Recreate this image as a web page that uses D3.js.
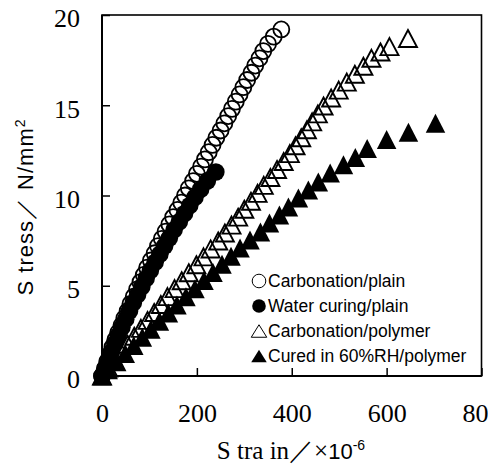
<!DOCTYPE html>
<html>
<head>
<meta charset="utf-8">
<script src="https://cdn.jsdelivr.net/npm/d3@7/dist/d3.min.js"></script>
<style>
  body { margin: 0; background: #fff; }
</style>
</head>
<body>
<svg id="chart" width="488" height="468"></svg>
<script>
// values: strain in x10^-6, stress in N/mm2
var carbPlainStress = [0,0.4,0.8,1.2,1.6,2.0,2.4,2.8,3.2,3.6,4.0,4.4,4.8,5.2,5.6,6.0,6.4,6.8,7.2,7.6,8.0,8.4,8.8,9.2,9.6,10.0,10.4,10.8,11.2,11.6,12.0,12.4,12.8,13.2,13.6,14.0,14.4,14.8,15.2,15.6,16.0,16.4,16.8,17.2,17.6,18.0,18.4,18.8,19.2];
var carbPlainStrain = [0,6,11,17,22,28,34,41,47,54,60,67,74,81,88,95,103,111,118,126,134,142,150,159,167,175,183,192,200,209,217,225,233,241,250,258,266,274,282,290,298,306,315,323,332,340,350,362,378];

var waterPlainStress = [0,0.45,0.9,1.35,1.8,2.25,2.7,3.15,3.6,4.05,4.5,4.95,5.4,5.85,6.3,6.75,7.2,7.65,8.1,8.55,9.0,9.45,9.9,10.35,10.8,11.3];
var waterPlainStrain = [0,7,14,20,27,34,42,50,58,66,75,84,93,102,112,122,132,142,152,163,174,185,196,208,222,240];

var carbPolyStress = [0,0.44,0.88,1.32,1.76,2.2,2.64,3.08,3.52,3.96,4.4,4.84,5.28,5.72,6.16,6.6,7.04,7.48,7.92,8.36,8.8,9.24,9.68,10.12,10.56,11.0,11.44,11.88,12.32,12.76,13.2,13.64,14.08,14.52,14.96,15.4,15.84,16.28,16.72,17.16,17.6,17.95,18.25,18.7];
var carbPolyStrain = [0,13,26,40,54,68,82,96,110,124,138,153,168,183,199,214,229,245,259,273,287,300,314,328,341,355,369,383,396,408,420,432,443,455,467,483,499,516,533,551,568,587,606,645];

var curedPolyStress = [0,0.34,0.79,1.24,1.69,2.14,2.59,3.04,3.49,3.94,4.39,4.84,5.29,5.74,6.19,6.64,7.09,7.53,7.98,8.48,8.92,9.36,9.86,10.3,10.75,11.25,11.7,12.1,12.6,13.1,13.5,14.0];
var curedPolyStrain = [0,13,31,49,67,85,103,121,140,158,177,196,215,234,253,272,291,312,334,353,374,393,414,435,456,481,509,534,559,600,646,703];

var xTicks = [0, 200, 400, 600, 800];
var yTicks = [0, 5, 10, 15, 20];
var legendLabels = ["Carbonation/plain", "Water curing/plain", "Carbonation/polymer", "Cured in 60%RH/polymer"];

var svg = d3.select("#chart");
var plotLeft = 102, plotRight = 481.5, plotTop = 15, plotBottom = 376;

var x = d3.scaleLinear().domain([0, 800]).range([plotLeft, plotRight]);
var y = d3.scaleLinear().domain([0, 20]).range([plotBottom, plotTop]);

function pairs(xs, ys) {
  return xs.map(function(d, i) { return [d, ys[i]]; });
}
function triangle(w, h) {
  return "M0," + (-h / 2) + "L" + (w / 2) + "," + (h / 2) + "L" + (-w / 2) + "," + (h / 2) + "Z";
}

// axes, ticks point inward
var xAxis = d3.axisBottom(x).tickValues(xTicks).tickSizeInner(-8).tickSizeOuter(0).tickPadding(28);
var yAxis = d3.axisLeft(y).tickValues(yTicks).tickSizeInner(-8).tickSizeOuter(0).tickPadding(22);

var gx = svg.append("g").attr("transform", "translate(0," + plotBottom + ")").call(xAxis);
var gy = svg.append("g").attr("transform", "translate(" + plotLeft + ",0)").call(yAxis);
[gx, gy].forEach(function(g) {
  g.select(".domain").remove();
  g.selectAll(".tick line").attr("stroke", "#000").attr("stroke-width", 1.5);
  g.selectAll(".tick text")
    .attr("fill", "#000")
    .style("font-family", "'Liberation Serif', 'DejaVu Serif', serif")
    .style("font-size", "26px");
});
gy.selectAll(".tick text").attr("dy", "0.46em");

svg.append("rect")
  .attr("x", plotLeft).attr("y", plotTop)
  .attr("width", plotRight - plotLeft).attr("height", plotBottom - plotTop)
  .attr("fill", "none").attr("stroke", "#000").attr("stroke-width", 1.6);
svg.append("path")
  .attr("d", "M" + plotLeft + "," + plotTop + "V" + plotBottom + "H" + plotRight)
  .attr("fill", "none").attr("stroke", "#000").attr("stroke-width", 2);

// series
svg.append("g").selectAll("circle")
  .data(pairs(carbPlainStrain, carbPlainStress))
  .join("circle")
  .attr("cx", function(d) { return x(d[0]); })
  .attr("cy", function(d) { return y(d[1]); })
  .attr("r", 8)
  .attr("fill", "none").attr("stroke", "#000").attr("stroke-width", 1.8);

svg.append("g").selectAll("circle")
  .data(pairs(waterPlainStrain, waterPlainStress))
  .join("circle")
  .attr("cx", function(d) { return x(d[0]); })
  .attr("cy", function(d) { return y(d[1]); })
  .attr("r", 8.8)
  .attr("fill", "#000");

svg.append("g").selectAll("path")
  .data(pairs(carbPolyStrain, carbPolyStress))
  .join("path")
  .attr("transform", function(d) { return "translate(" + x(d[0]) + "," + y(d[1]) + ")"; })
  .attr("d", triangle(18, 17))
  .attr("fill", "none").attr("stroke", "#000").attr("stroke-width", 1.9)
  .attr("stroke-linejoin", "miter");

svg.append("g").selectAll("path")
  .data(pairs(curedPolyStrain, curedPolyStress))
  .join("path")
  .attr("transform", function(d) { return "translate(" + x(d[0]) + "," + y(d[1]) + ")"; })
  .attr("d", triangle(19.5, 19))
  .attr("fill", "#000");

// legend
var legend = svg.append("g").attr("transform", "translate(259,281)");
legendLabels.forEach(function(label, i) {
  var row = legend.append("g").attr("transform", "translate(0," + (i * 25) + ")");
  if (i < 2) {
    row.append("circle").attr("r", 6.8)
      .attr("fill", i === 1 ? "#000" : "none")
      .attr("stroke", "#000").attr("stroke-width", i === 1 ? 0 : 1);
  } else {
    row.append("path").attr("d", triangle(15.5, 12.5))
      .attr("fill", i === 3 ? "#000" : "none")
      .attr("stroke", i === 3 ? "none" : "#000").attr("stroke-width", 1);
  }
  row.append("text")
    .attr("x", 9).attr("y", 6)
    .style("font-family", "'Liberation Sans', Arial, sans-serif")
    .style("font-size", "17.5px")
    .text(label);
});

// axis titles
var yTitle = svg.append("text")
  .attr("transform", "translate(33,207) rotate(-90)")
  .attr("text-anchor", "middle")
  .style("font-family", "'Liberation Sans', Arial, sans-serif")
  .style("font-size", "22px")
  .style("letter-spacing", "1px");
yTitle.append("tspan").text("S tress／ N/mm");
yTitle.append("tspan").attr("dy", -8).style("font-size", "14px").text("2");

var xTitle = svg.append("text")
  .attr("x", 291).attr("y", 459)
  .attr("text-anchor", "middle");
xTitle.append("tspan")
  .style("font-family", "'Liberation Serif', 'DejaVu Serif', serif")
  .style("font-size", "25px")
  .text("S tra in／×");
xTitle.append("tspan")
  .style("font-family", "'Liberation Sans', Arial, sans-serif")
  .style("font-size", "22px")
  .text("10");
xTitle.append("tspan")
  .attr("dy", -9)
  .style("font-family", "'Liberation Sans', Arial, sans-serif")
  .style("font-size", "14px")
  .text("-6");
</script>
</body>
</html>
